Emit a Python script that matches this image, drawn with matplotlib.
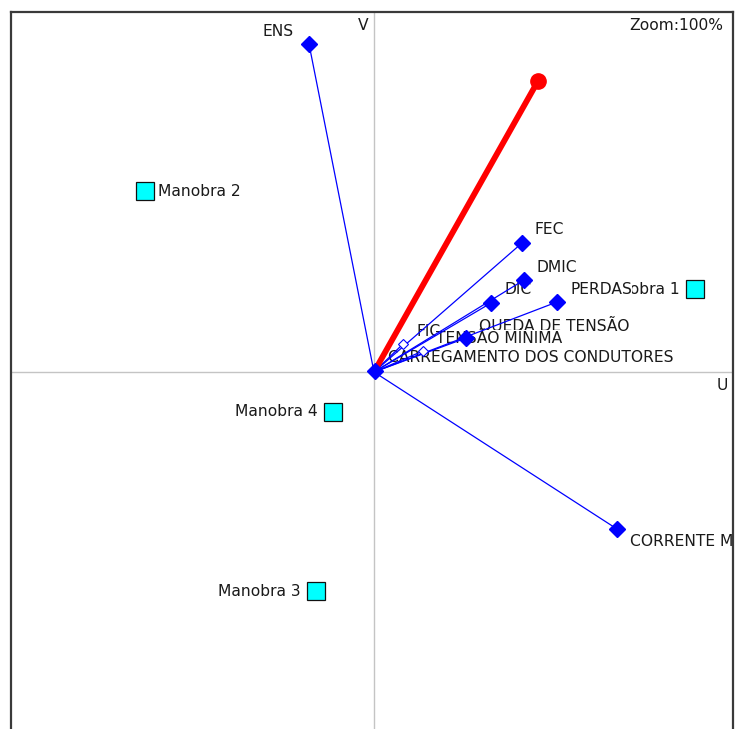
import matplotlib
matplotlib.use("Agg")
import matplotlib.pyplot as plt

# ---- data (GAIA plane coordinates) ----
crit_names = ["ENS", "FEC", "DMIC", "DIC", "PERDAS", "QUEDA DE TENSÃO",
              "TENSÃO MÍNIMA", "FIC", "CARREGAMENTO DOS CONDUTORES", "CORRENTE MÉDIA"]
crit_x = [-0.65, 1.48, 1.50, 1.17, 1.83, 0.92, 0.49, 0.29, 0.01, 2.43]
crit_y = [3.28, 1.29, 0.92, 0.69, 0.70, 0.34, 0.21, 0.28, 0.01, -1.57]
crit_small = [False, False, False, False, False, False, True, True, False, False]

act_names = ["Manobra 1", "Manobra 2", "Manobra 3", "Manobra 4"]
act_x = [3.21, -2.29, -0.58, -0.41]
act_y = [0.83, 1.81, -2.19, -0.40]

decision_x = [0.0, 1.64]
decision_y = [0.0, 2.91]

# label placement (pixel offsets, alignment)
crit_offsets = {
    "ENS": (-15, 13, "right"),
    "CORRENTE MÉDIA": (13, -13, "left"),
}
act_offsets = {
    "Manobra 1": (-15, 0, "right"),
    "Manobra 2": (13, 0, "left"),
    "Manobra 3": (-15, 0, "right"),
    "Manobra 4": (-15, 0, "right"),
}

W, H = 750, 729
fig = plt.figure(figsize=(W / 100, H / 100), dpi=100)
left, right, top = 11, 733, 12
ax = fig.add_axes([left / W, 0, (right - left) / W, (H - top) / H])
ox, oy, scale = 374, 372, 100.0
ax.set_xlim((left - ox) / scale, (right - ox) / scale)
ax.set_ylim((oy - H) / scale, (oy - top) / scale)
ax.set_xticks([])
ax.set_yticks([])
for s in ["left", "right", "top"]:
    ax.spines[s].set_color("#3a3a3a")
    ax.spines[s].set_linewidth(1.6)
ax.spines["bottom"].set_visible(False)

ax.axhline(0, color="#c4c4c4", lw=1.0, zorder=1)
ax.axvline(0, color="#c4c4c4", lw=1.0, zorder=1)

font = dict(family="DejaVu Sans", fontsize=11.2, color="#1a1a1a")
bg = dict(facecolor="white", edgecolor="none", pad=0.3)

# actions
for n, x, y in zip(act_names, act_x, act_y):
    ax.plot(x, y, marker="s", ms=12.5, mfc="#00ffff", mec="#111111", mew=0.9,
            ls="none", zorder=4)
    dx, dy, ha = act_offsets[n]
    ax.annotate(n, (x, y), xytext=(dx, dy), textcoords="offset pixels",
                ha=ha, va="center", bbox=bg, zorder=2, **font)

# criteria labels (ordered so later ones overlap earlier ones)
order = [1, 2, 3, 5, 7, 6, 8, 4, 0, 9]
for i in order:
    n = crit_names[i]
    dx, dy, ha = crit_offsets.get(n, (13, 13, "left"))
    ax.annotate(n, (crit_x[i], crit_y[i]), xytext=(dx, dy),
                textcoords="offset pixels", ha=ha, va="center",
                bbox=bg, zorder=2, annotation_clip=False, clip_on=True, **font)

# criteria lines and markers
for n, x, y, sm in zip(crit_names, crit_x, crit_y, crit_small):
    ax.plot([0, x], [0, y], color="#0000ff", lw=0.9, zorder=3)
    if sm:
        ax.plot(x, y, marker="D", ms=5.5, mfc="white", mec="#0000ff", mew=0.8,
                ls="none", zorder=4)
    else:
        ax.plot(x, y, marker="D", ms=8.5, mfc="#0000ff", mec="#0000ff",
                ls="none", zorder=4.5)

# decision axis
ax.plot(decision_x, decision_y, color="#ff0000", lw=4.2, zorder=3.5,
        solid_capstyle="round")
ax.plot(decision_x[-1], decision_y[-1], marker="o", ms=11, color="#ff0000",
        zorder=3.6)

# axis names and zoom label
ax.text((358 - ox) / scale, (oy - 25) / scale, "V", ha="left", va="center", **font)
ax.text((728 - ox) / scale, (oy - 386) / scale, "U", ha="right", va="center", **font)
ax.text((723 - ox) / scale, (oy - 26) / scale, "Zoom:100%", ha="right",
        va="center", **font)

fig.savefig("out.png", dpi=100)
